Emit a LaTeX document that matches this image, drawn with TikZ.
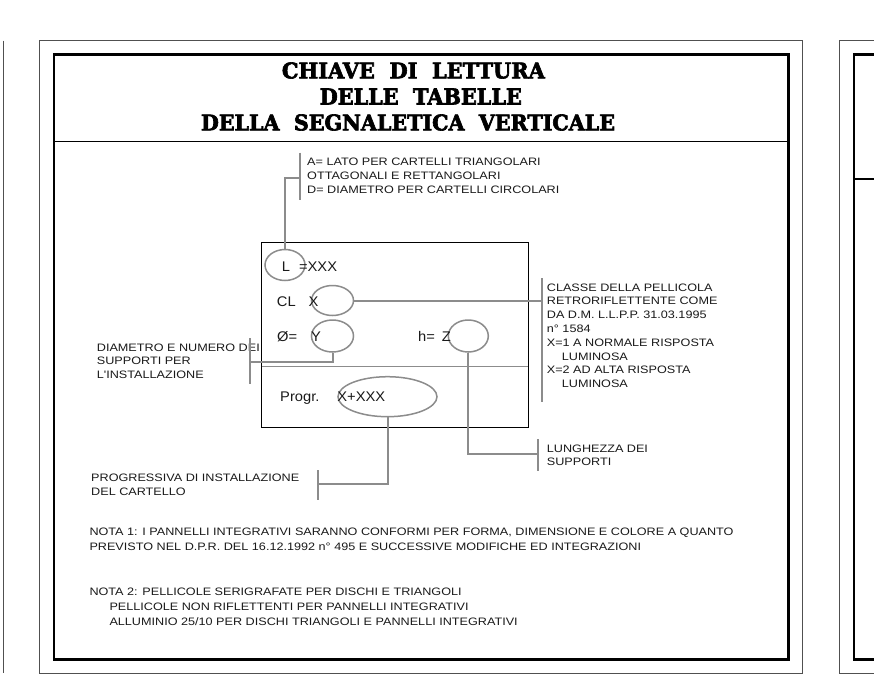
\documentclass[tikz,border=0pt]{standalone}
\usepackage{fontspec}
\usepackage{graphicx}
\usetikzlibrary{shapes.geometric}
\newfontfamily\lblfont[FakeStretch=1.17]{Liberation Sans}
\newfontfamily\innerfont[FakeStretch=1.05]{Liberation Sans}
\newfontfamily\ttlfont[FakeBold=3]{DejaVu Serif}
\definecolor{conngray}{HTML}{8C8C8C}
\definecolor{ink}{HTML}{1A1A1A}
\definecolor{framegray}{HTML}{505050}
\begin{document}
\begin{tikzpicture}[x=1pt,y=-1pt,
  outerframe/.style={draw=framegray, line width=1pt},
  innerframe/.style={draw=black, line width=2.8pt},
  connline/.style={draw=conngray, line width=2pt},
  ell/.style={ellipse, draw=conngray, line width=1.5pt, inner sep=0},
  lbl/.style={anchor=north west, inner sep=0, align=left, text=ink, font=\lblfont\fontsize{10.8}{13.8}\selectfont},
  notelbl/.style={anchor=north west, inner sep=0, align=left, text=ink, font=\lblfont\fontsize{10.8}{14.8}\selectfont},
  inner/.style={anchor=base west, inner sep=0, text=ink, font=\innerfont\fontsize{14}{16}\selectfont},
  ttl/.style={inner sep=0, text=black}
]
\useasboundingbox (0,0) rectangle (874,679);
\fill[white] (0,0) rectangle (874,679);

% left panel edge
\draw[outerframe] (3,40.7) -- (3,673.3);
% right panel
\draw[outerframe] (880,40.7) -- (839.3,40.7) -- (839.3,673.3) -- (880,673.3);
\draw[innerframe] (880,54.7) -- (854,54.7) -- (854,659.3) -- (880,659.3);
\draw[line width=1.4pt] (854,179) -- (880,179);

% middle panel frames
\draw[outerframe] (39.5,40.7) rectangle (802.7,673.3);
\draw[innerframe] (54,54.7) rectangle (788.7,659.3);
\draw[line width=1.4pt] (54,141.5) -- (788.7,141.5);

% title
\node[ttl] (t1) at (413.4,70.5) {\resizebox{263pt}{16pt}{\ttlfont\bfseries CHIAVE\ \ DI\ \ LETTURA}};
\node[ttl] (t2) at (420.8,96.5) {\resizebox{202pt}{16pt}{\ttlfont\bfseries DELLE\ \ TABELLE}};
\node[ttl] (t3) at (408,122.5) {\resizebox{414pt}{16pt}{\ttlfont\bfseries DELLA\ \ SEGNALETICA\ \ VERTICALE}};

% sign rectangle
\draw[black, line width=0.9pt] (261.7,242) rectangle (528.3,427.5);
\draw[conngray, line width=1.3pt] (261.7,366.5) -- (528.3,366.5);

% ellipses
\node[ell, minimum width=40pt, minimum height=31pt] (eL) at (285,265) {};
\node[ell, minimum width=42pt, minimum height=30pt] (eCL) at (332.5,300.5) {};
\node[ell, minimum width=42pt, minimum height=32pt] (eD) at (332.5,336) {};
\node[ell, minimum width=40pt, minimum height=32pt] (eH) at (468.3,336) {};
\node[ell, minimum width=99pt, minimum height=40pt] (eP) at (387.5,396.7) {};

% texts inside the sign
\node[inner] (tL) at (281.7,271.9) {L\hspace{9pt}=XXX};
\node[inner] (tCL) at (276.7,306.9) {CL\hspace{13pt}X};
\node[inner] (tD) at (277,341.9) {Ø=\hspace{14pt}Y};
\node[inner] (tH) at (418,341.9) {h=\hspace{7pt}Z};
\node[inner] (tP) at (280,401.9) {Progr.\hspace{18pt}X+XXX};

% labels
\node[lbl] (lA) at (307,157.8) {A= LATO PER CARTELLI TRIANGOLARI\\OTTAGONALI E RETTANGOLARI\\D= DIAMETRO PER CARTELLI CIRCOLARI};
\node[lbl] (lCL) at (546.7,283.4) {CLASSE DELLA PELLICOLA\\RETRORIFLETTENTE COME\\DA D.M. L.L.P.P. 31.03.1995\\n° 1584\\X=1 A NORMALE RISPOSTA\\\hspace*{15pt}LUMINOSA\\X=2 AD ALTA RISPOSTA\\\hspace*{15pt}LUMINOSA};
\node[lbl] (lD) at (96.7,343.4) {DIAMETRO E NUMERO DEI\\SUPPORTI PER\\L'INSTALLAZIONE};
\node[lbl] (lH) at (546.7,444.4) {LUNGHEZZA DEI\\SUPPORTI};
\node[lbl] (lP) at (91,473.8) {PROGRESSIVA DI INSTALLAZIONE\\DEL CARTELLO};
\node[notelbl] (n1) at (89.3,528) {NOTA 1: I PANNELLI INTEGRATIVI SARANNO CONFORMI PER FORMA, DIMENSIONE E COLORE A QUANTO\\PREVISTO NEL D.P.R. DEL 16.12.1992 n° 495 E SUCCESSIVE MODIFICHE ED INTEGRAZIONI};
\node[notelbl] (n2) at (89.3,588) {NOTA 2: PELLICOLE SERIGRAFATE PER DISCHI E TRIANGOLI\\\hspace*{20pt}PELLICOLE NON RIFLETTENTI PER PANNELLI INTEGRATIVI\\\hspace*{20pt}ALLUMINIO 25/10 PER DISCHI TRIANGOLI E PANNELLI INTEGRATIVI};

% connectors and brackets
\coordinate (jA) at (300,178);
\coordinate (bA1) at (300,152.7);
\coordinate (bA2) at (300,200);
\draw[connline] (eL.north) |- (jA);
\draw[connline] (bA1) -- (bA2);

\coordinate (jCL) at (541.7,300.5);
\coordinate (bCL1) at (541.7,278.3);
\coordinate (bCL2) at (541.7,401.7);
\draw[connline] (eCL.east) -- (jCL);
\draw[connline] (bCL1) -- (bCL2);

\coordinate (jD) at (250,361.7);
\coordinate (bD1) at (250,338);
\coordinate (bD2) at (250,384);
\draw[connline] (eD.south) |- (jD);
\draw[connline] (bD1) -- (bD2);

\coordinate (jH) at (538.3,454.3);
\coordinate (bH1) at (538.3,439.3);
\coordinate (bH2) at (538.3,470.7);
\draw[connline] (eH.south) |- (jH);
\draw[connline] (bH1) -- (bH2);

\coordinate (jP) at (318.3,484.3);
\coordinate (bP1) at (318.3,470);
\coordinate (bP2) at (318.3,500);
\draw[connline] (eP.south) |- (jP);
\draw[connline] (bP1) -- (bP2);
\end{tikzpicture}
\end{document}
